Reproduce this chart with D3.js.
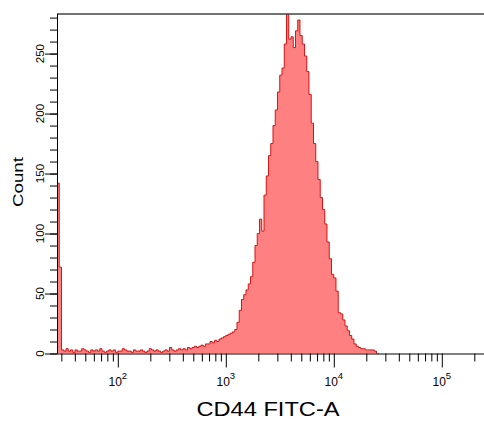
<!DOCTYPE html>
<html>
<head>
<meta charset="utf-8">
<script src="https://cdn.jsdelivr.net/npm/d3@7"></script>
<style>
  body { margin: 0; background: #fff; }
  svg { display: block; font-family: "Liberation Sans", Arial, sans-serif; }
</style>
</head>
<body>
<svg></svg>
<script>
// axis settings
const xMin = 27.35;
const xMax = 262144;
const yMax = 283;
const binsPerDecade = 48;

// histogram counts, one value per bin (bins start at xMin, 1/48 decade wide)
const counts = [
    142, 72,
    3, 2, 4, 2, 3, 1, 3, 2, 2, 4,
    3, 2, 1, 3, 2, 3, 2, 4, 2, 1,
    2, 3, 2, 3, 1, 2, 2, 4, 3, 2,
    2, 1, 3, 2, 2, 3, 2, 1, 2, 4,
    3, 2, 3, 2, 1, 2, 3, 2, 5, 3,
    2, 3, 4, 3, 4, 3, 5, 4, 5, 6, 5,
    6, 7, 6, 8, 8, 10, 9, 11, 10, 12,
    13, 14, 15, 16, 17, 18, 20, 26, 36, 45,
    49, 53, 58, 64, 76, 90, 100, 112, 102, 132,
    148, 165, 175, 190, 203, 218, 232, 238, 258, 283,
    262, 264, 255, 269, 278, 265, 258, 248, 235, 216,
    192, 175, 160, 145, 130, 120, 108, 93, 79, 66,
    63, 52, 34, 33, 28, 23, 19, 15, 12, 8,
    6, 5, 4, 4, 3, 3, 3, 3, 2, 0
];

const yMajorTicks = [0, 50, 100, 150, 200, 250];
const yMinorTicks = d3.range(0, 290, 10);
const xMajorExponents = [2, 3, 4, 5];
const xAxisTitle = 'CD44 FITC-A';
const yAxisTitle = 'Count';

const width = 484;
const height = 423;
const plot = { left: 57, right: 487, top: 14, bottom: 353.5 };

const svg = d3.select('svg').attr('width', width).attr('height', height);

const x = d3.scaleLog().domain([xMin, xMax]).range([plot.left, plot.right]);
const y = d3.scaleLinear().domain([0, yMax]).range([plot.bottom, plot.top]);

// bin edges from the log scale
const logMin = Math.log10(xMin);
const points = [{ e: Math.pow(10, logMin), v: 0 }];
counts.forEach((c, i) => {
    points.push({ e: Math.pow(10, logMin + i / binsPerDecade), v: c });
});
points.push({ e: Math.pow(10, logMin + counts.length / binsPerDecade), v: 0 });

svg.append('clipPath')
    .attr('id', 'clip')
    .append('rect')
    .attr('x', plot.left)
    .attr('y', plot.top)
    .attr('width', plot.right - plot.left)
    .attr('height', plot.bottom - plot.top);

const area = d3.area()
    .x((d) => x(d.e))
    .y0(y(0))
    .y1((d) => y(d.v))
    .curve(d3.curveStepAfter);

const line = d3.line()
    .x((d) => x(d.e))
    .y((d) => y(d.v))
    .curve(d3.curveStepAfter);

const g = svg.append('g').attr('clip-path', 'url(#clip)');

g.append('path')
    .datum(points)
    .attr('d', area)
    .attr('fill', '#ff8080');

g.append('path')
    .datum(points)
    .attr('d', line)
    .attr('fill', 'none')
    .attr('stroke', '#d40000')
    .attr('stroke-width', 0.9);

// frame
svg.append('line')
    .attr('x1', plot.left).attr('x2', plot.right)
    .attr('y1', plot.top).attr('y2', plot.top)
    .attr('stroke', '#444').attr('stroke-width', 1.6);

// y axis
const yAxisMinor = d3.axisLeft(y).tickValues(yMinorTicks).tickSize(7).tickFormat('');
const yAxisMajor = d3.axisLeft(y).tickValues(yMajorTicks).tickSize(12).tickFormat('');

svg.append('g')
    .attr('transform', `translate(${plot.left},0)`)
    .call(yAxisMinor)
    .call((s) => s.select('.domain').remove());

svg.append('g')
    .attr('transform', `translate(${plot.left},0)`)
    .call(yAxisMajor)
    .call((s) => s.select('.domain').remove());

svg.append('line')
    .attr('x1', plot.left + 0.5).attr('x2', plot.left + 0.5)
    .attr('y1', plot.top).attr('y2', plot.bottom + 0.5)
    .attr('stroke', '#000');

svg.append('g')
    .selectAll('text')
    .data(yMajorTicks)
    .enter()
    .append('text')
    .attr('transform', (d) => `translate(${plot.left - 13.5},${y(d)}) rotate(-90)`)
    .attr('text-anchor', 'middle')
    .attr('font-size', 11.5)
    .attr('fill', '#000')
    .text((d) => d);

// x axis
const xMinorValues = [];
for (let k = 1; k <= 5; k++) {
    for (let m = 2; m <= 9; m++) {
        const v = m * Math.pow(10, k);
        if (v > xMin && v < xMax) xMinorValues.push(v);
    }
}
const xMajorValues = xMajorExponents.map((k) => Math.pow(10, k));

svg.append('g')
    .attr('transform', `translate(0,${plot.bottom})`)
    .call(d3.axisBottom(x).tickValues(xMinorValues).tickSize(8).tickFormat(''))
    .call((s) => s.select('.domain').remove());

svg.append('g')
    .attr('transform', `translate(0,${plot.bottom})`)
    .call(d3.axisBottom(x).tickValues(xMajorValues).tickSize(14).tickFormat(''))
    .call((s) => s.select('.domain').remove());

svg.append('line')
    .attr('x1', plot.left).attr('x2', plot.right)
    .attr('y1', plot.bottom + 0.5).attr('y2', plot.bottom + 0.5)
    .attr('stroke', '#000');

const xLabels = svg.append('g')
    .selectAll('text')
    .data(xMajorExponents)
    .enter()
    .append('text')
    .attr('x', (d) => x(Math.pow(10, d)))
    .attr('y', 386)
    .attr('text-anchor', 'middle')
    .attr('font-size', 12)
    .attr('fill', '#000');

xLabels.append('tspan').text('10');
xLabels.append('tspan')
    .attr('dy', -7)
    .attr('font-size', 9.5)
    .text((d) => d);

// axis titles
svg.append('text')
    .attr('x', 268)
    .attr('y', 416)
    .attr('text-anchor', 'middle')
    .attr('font-size', 20)
    .attr('textLength', 143)
    .attr('lengthAdjust', 'spacingAndGlyphs')
    .attr('fill', '#000')
    .text(xAxisTitle);

svg.append('text')
    .attr('transform', 'translate(23,182) rotate(-90)')
    .attr('text-anchor', 'middle')
    .attr('font-size', 15)
    .attr('textLength', 50)
    .attr('lengthAdjust', 'spacingAndGlyphs')
    .attr('fill', '#000')
    .text(yAxisTitle);
</script>
</body>
</html>
